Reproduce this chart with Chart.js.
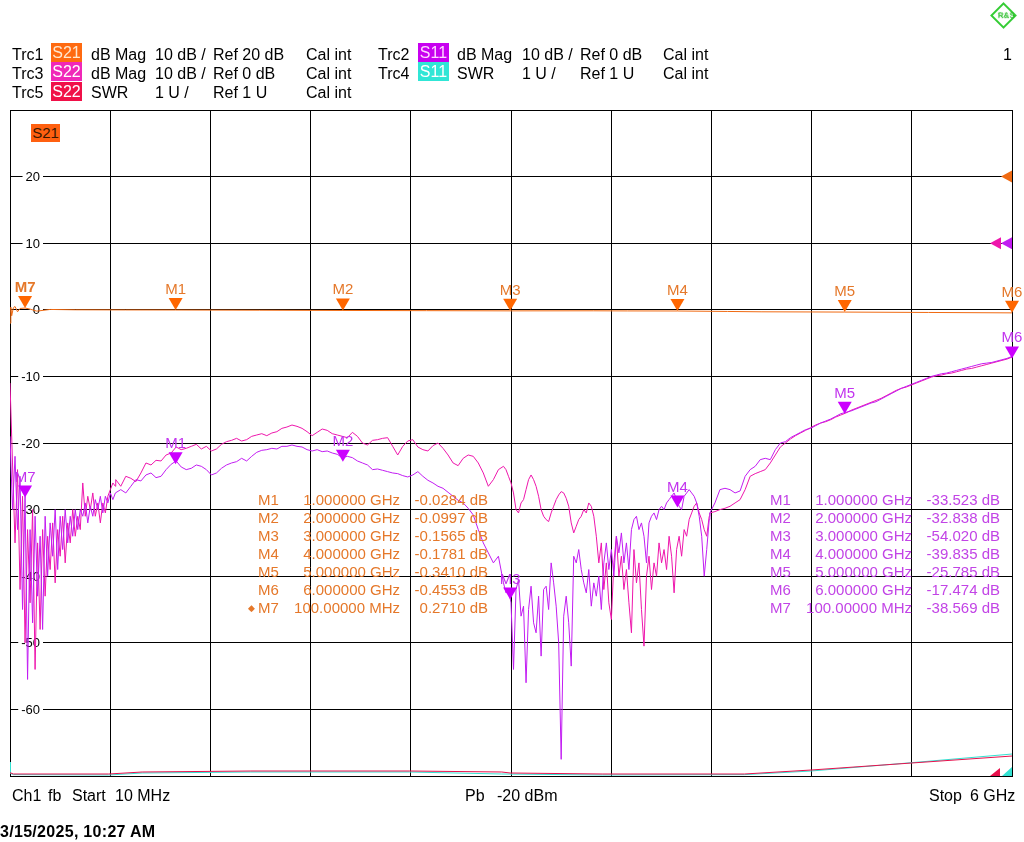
<!DOCTYPE html>
<html>
<head>
<meta charset="utf-8">
<script src="https://cdn.jsdelivr.net/npm/chart.js@4.4.1/dist/chart.umd.min.js"></script>
<style>
  body { margin: 0; background: #fff; overflow: hidden; font-family: "Liberation Sans", Arial, sans-serif; }
  #wrap { position: relative; width: 1024px; height: 842px; }
  canvas { position: absolute; left: 0; top: 0; }
  .t { position: absolute; font-size: 16px; line-height: 19px; white-space: nowrap; color: #000; }
  .badge { position: absolute; width: 31px; height: 19px; font-size: 16px; line-height: 19px; text-align: center; color: #fff; }
  .mk { position: absolute; font-size: 15px; line-height: 18px; white-space: nowrap; }
  .r { text-align: right; }
  #logo { position: absolute; left: 994px; top: 6px; width: 15px; height: 15px; border: 2px solid #3c3; transform: rotate(45deg); }
  #logo span { position: absolute; left: 1px; top: 1px; font-size: 8px; font-weight: bold; color: #2b2; transform: rotate(-45deg); }
</style>
</head>
<body>
<div id="wrap">
  <canvas id="vna" width="1024" height="842"></canvas>
  <div id="logo"><span>R&amp;S</span></div>
</div>
<script>
// sweep: Start 10 MHz, Stop 6 GHz
const startMHz = 10;
const stopMHz = 6000;
const sweepPoints = 200;
// finer read-outs of the noisy bands
const lowBandStart = 10, lowBandStep = 15, lowBandPoints = 43;    // 10 .. 640 MHz
const midBandStart = 2960, midBandStep = 15, midBandPoints = 83;  // 2960 .. 4190 MHz

// vertical grid lines (10 divisions)
const xGridMHz = [10, 609, 1208, 1807, 2406, 3005, 3604, 4203, 4802, 5401, 6000];
const yTickLabels = [20, 10, 0, -10, -20, -30, -40, -50, -60];

// Trc2 S11 dB Mag, one value per sweep point
const s11Db = [
  -19, -27, -24, -55, -33, -45, -30, -46, -31, -40,
  -30, -37, -31, -35, -30, -32, -30, -28, -31, -29,
  -28, -27.5, -27, -27.5, -26.5, -25.5, -25.7, -24.8, -24.5, -25.2,
  -25.0, -24.0, -23.2, -22.7, -23.6, -24.0, -23.8, -23.3, -23.5, -24.0,
  -24.8, -24.5, -23.8, -23.3, -23.0, -22.8, -22.3, -22.7, -22.0, -21.4,
  -21.1, -21.0, -20.8, -20.9, -20.5, -20.5, -20.3, -20.5, -20.6, -21.0,
  -21.2, -21.0, -21.3, -21.2, -21.5, -21.7, -22.2, -22.0, -22.2, -22.7,
  -23.0, -23.3, -24.0, -23.9, -24.1, -24.3, -24.5, -24.6, -24.9, -25.1,
  -24.8, -24.3, -25.0, -25.6, -26.0, -26.5, -26.8, -27.4, -28.0, -28.6,
  -29.0, -29.8, -30.8, -33.0, -35.0, -36.5, -38.0, -37.0, -41.0, -42.5,
  -54.0, -41.0, -49.0, -42.0, -56.0, -44.0, -52.0, -40.0, -38.5, -67.5,
  -45.5, -53.5, -37.0, -36.5, -40.0, -44.0, -42.0, -44.0, -36.0, -39.0,
  -34.5, -37.5, -33.5, -36.0, -31.5, -33.0, -35.0, -31.5, -32.0, -30.5,
  -29.0, -28.0, -27.3, -29.5, -28.0, -27.0, -28.5, -31.0, -40.0, -30.5,
  -29.0, -27.0, -26.8, -27.0, -27.5, -27.2, -25.0, -24.0, -23.5, -22.5,
  -22.3, -22.5, -21.0, -20.0, -19.8, -19.2, -18.8, -18.4, -18.0, -17.8,
  -17.4, -17.0, -16.7, -16.4, -16.0, -15.6, -15.4, -15.2, -14.9, -14.6,
  -14.3, -14.0, -13.8, -13.4, -13.0, -12.6, -12.2, -11.8, -11.5, -11.2,
  -10.9, -10.6, -10.3, -10.0, -9.8, -9.6, -9.5, -9.3, -9.1, -8.9,
  -8.7, -8.5, -8.3, -8.1, -8.0, -7.9, -7.7, -7.5, -7.3, -7.0
];
const s11LowDb = [
  -19, -30, -22, -33, -25, -45, -28, -55.5, -33, -47,
  -31, -43, -34, -48, -31, -40, -32, -37, -30, -39,
  -31, -36, -30, -35, -31, -34, -30, -33, -30, -31,
  -29, -32, -29.5, -31, -28.5, -30, -28, -30.5, -28, -29,
  -27.5, -28.5, -27.5
];
const s11MidDb = [
  -41, -42.5, -42, -44, -54, -42, -40.5, -46, -44.5, -56,
  -45, -41.5, -47, -48.5, -43, -52, -42, -41.5, -45, -38,
  -41, -44.5, -50, -67.5, -46, -43, -47, -53.5, -37, -38,
  -36, -39, -41, -42.5, -39, -44.5, -41, -43, -40, -45,
  -38, -35, -39, -36, -40, -34, -36.5, -33.5, -38, -35,
  -39, -33, -31.5, -31, -33, -32, -34, -38, -32, -31,
  -30.5, -31.5, -30, -29.5, -30, -29, -28.5, -28, -27.5, -28.5,
  -29.5, -30, -28, -27.5, -27, -27.5, -28, -29, -31, -34,
  -40, -36, -31.5
];

// Trc3 S22 dB Mag
const s22Db = [
  -11, -22, -33, -42, -50, -30, -54, -36, -44, -33,
  -42, -31, -36, -32, -33, -27, -31, -29, -32, -30,
  -27, -25.5, -26.5, -25.0, -25.3, -25.8, -24.5, -23.0, -23.3, -22.6,
  -22.7, -21.8, -21.5, -20.6, -21.0, -20.8, -20.5, -20.2, -20.9, -20.5,
  -21.2, -20.9, -20.2, -19.8, -19.6, -19.3, -19.7, -19.5, -19.0, -18.8,
  -18.6, -18.9, -18.5, -18.3, -17.8, -17.6, -17.3, -17.5, -17.8, -18.3,
  -18.9, -18.4, -17.9, -18.1, -18.6, -18.8, -19.0, -19.2, -18.4, -19.0,
  -20.0, -20.3, -19.6, -19.5, -19.3, -19.2, -20.5, -21.8, -20.5, -19.7,
  -19.5, -20.6, -21.0, -21.2, -20.4, -20.0, -20.8, -21.8, -23.0, -23.4,
  -22.3, -21.8, -22.0, -23.0, -24.5, -26.5, -25.5, -24.0, -23.5, -25.0,
  -27.8, -30.0, -28.5, -25.5, -25.0, -28.0, -30.8, -31.8, -29.5, -27.5,
  -27.5, -29.0, -33.0, -32.0, -30.5, -29.0, -31.0, -37.0, -43.0, -46.5,
  -35.0, -41.0, -37.0, -48.5, -36.0, -43.0, -50.5, -38.0, -41.0, -35.0,
  -38.5, -34.0, -42.5, -35.0, -33.0, -31.0, -29.5, -31.5, -34.0, -30.5,
  -30.3, -30.0, -29.8, -29.5, -29.0, -28.5, -27.0, -25.0, -24.6, -24.3,
  -24.0, -23.0, -21.8, -20.6, -20.0, -19.4, -18.9, -18.5, -18.1, -17.7,
  -17.3, -17.0, -16.8, -16.5, -16.1, -15.8, -15.5, -15.1, -14.8, -14.5,
  -14.2, -13.9, -13.6, -13.3, -12.9, -12.5, -12.1, -11.8, -11.6, -11.3,
  -11.0, -10.7, -10.4, -10.1, -9.9, -9.8, -9.6, -9.5, -9.3, -9.1,
  -8.9, -8.8, -8.6, -8.4, -8.2, -8.0, -7.8, -7.6, -7.4, -7.1
];
const s22LowDb = [
  -11, -23, -35, -24, -42, -28, -50, -33, -44, -30,
  -54, -35, -48, -33, -43, -34, -39, -32, -41, -33,
  -37, -31, -38, -32, -35, -30, -34, -31, -33, -26,
  -31, -28, -30, -27.5, -31, -29, -32, -29, -30.5, -28,
  -27, -26, -26.5
];
const s22MidDb = [
  -23.5, -24, -25, -26, -27.5, -30, -30.5, -29, -28.5, -27,
  -25.5, -24.8, -25.5, -26.5, -28, -30, -31, -31.5, -31.8, -30.5,
  -29.5, -28.5, -27.8, -27.3, -27.5, -28.3, -29.5, -32, -33.5, -32.5,
  -31.5, -31, -30, -30.5, -29, -29.5, -31, -34, -38, -35,
  -42, -38, -44, -46.5, -38, -34, -40, -37, -42, -39,
  -44, -48.5, -36, -41, -38, -45, -50.5, -40, -37, -42,
  -38, -40, -35, -38, -36, -39, -34, -37, -42.5, -36,
  -34, -37, -33, -34, -31.5, -30.5, -29.5, -29, -30.5, -31.5,
  -33, -34, -31
];

// Trc1 S21 dB Mag
const s21FreqMHz = [10, 15, 20, 30, 40, 55, 70, 100, 130, 170, 250, 400, 700, 1000, 1500, 2000, 2500, 3000, 3500, 3700, 4000, 4300, 4500, 5000, 5500, 6000];
const s21Db = [-2.0, 0.4, -0.9, 0.3, 0.5, -0.3, 0.2, 0.27, 0.1, -0.2, 0.05, 0.0, -0.02, -0.03, -0.06, -0.1, -0.13, -0.16, -0.15, -0.17, -0.18, -0.25, -0.3, -0.34, -0.4, -0.46];

// Trc5 S22 SWR and Trc4 S11 SWR
const swr22FreqMHz = [10, 30, 600, 800, 1450, 2400, 2950, 3000, 3550, 4400, 4800, 5400, 6000];
const swr22 = [1.05, 1.03, 1.03, 1.06, 1.075, 1.075, 1.06, 1.045, 1.03, 1.03, 1.09, 1.195, 1.30];
const swr11FreqMHz = [10, 13, 30, 600, 800, 1450, 2400, 2950, 3550, 4400, 4800, 5400, 6000];
const swr11 = [1.21, 1.04, 1.02, 1.015, 1.045, 1.06, 1.06, 1.03, 1.015, 1.02, 1.075, 1.2, 1.33];

// markers
const markerNames = ['M1', 'M2', 'M3', 'M4', 'M5', 'M6', 'M7'];
const markerFreqMHz = [1000, 2000, 3000, 4000, 5000, 6000, 100];
const markerFreqText = ['1.000000 GHz', '2.000000 GHz', '3.000000 GHz', '4.000000 GHz', '5.000000 GHz', '6.000000 GHz', '100.00000 MHz'];
const s21MarkerDb = [-0.0284, -0.0997, -0.1565, -0.1781, -0.3410, -0.4553, 0.2710];
const s21MarkerText = ['-0.0284 dB', '-0.0997 dB', '-0.1565 dB', '-0.1781 dB', '-0.3410 dB', '-0.4553 dB', '0.2710 dB'];
const s11MarkerDb = [-23.2, -22.8, -43.5, -29.7, -15.6, -7.3, -28.2];
const s11MarkerText = ['-33.523 dB', '-32.838 dB', '-54.020 dB', '-39.835 dB', '-25.785 dB', '-17.474 dB', '-38.569 dB'];

// reference position arrows
const refArrowDb = [20, 10, 10];

const ORANGE = '#f06a12';
const ORANGE_TXT = '#e5782a';
const PURPLE = '#c21cf2';
const MAGENTA = '#ee16ac';
const RED = '#e8104c';
const CYAN = '#34e2d2';

function grid(f0, step, n) {
  const out = [];
  for (let i = 0; i < n; i++) out.push(f0 + i * step);
  return out;
}
const sweepMHz = grid(startMHz, (stopMHz - startMHz) / (sweepPoints - 1), sweepPoints);
const lowBandMHz = grid(lowBandStart, lowBandStep, lowBandPoints);
const midBandMHz = grid(midBandStart, midBandStep, midBandPoints);
const lowEnd = lowBandMHz[lowBandMHz.length - 1];
const midEnd = midBandMHz[midBandMHz.length - 1];

function pts(xs, ys) { return xs.map((x, i) => ({ x: x, y: ys[i] })); }

// whole sweep with the finer bands swapped in
function trace(base, low, mid) {
  const out = pts(lowBandMHz, low);
  sweepMHz.forEach((f, i) => { if (f > lowEnd && f < midBandStart - 5) out.push({ x: f, y: base[i] }); });
  pts(midBandMHz, mid).forEach(p => out.push(p));
  sweepMHz.forEach((f, i) => { if (f > midEnd) out.push({ x: f, y: base[i] }); });
  return out;
}

// ---- header / footer text ----
const wrap = document.getElementById('wrap');
function addText(left, top, text, cls, style) {
  const d = document.createElement('div');
  d.className = cls || 't';
  d.textContent = text;
  d.style.left = left + 'px';
  d.style.top = top + 'px';
  if (style) Object.assign(d.style, style);
  wrap.appendChild(d);
  return d;
}
function addBadge(left, top, text, bg, fg) {
  addText(left, top, text, 'badge', { background: bg, color: fg || '#fff' });
}

const headRows = [45, 64, 83];
addText(12, headRows[0], 'Trc1'); addBadge(51, 43, 'S21', '#ff6a10', '#ffe8d0');
addText(91, headRows[0], 'dB Mag'); addText(155, headRows[0], '10 dB /'); addText(213, headRows[0], 'Ref 20 dB'); addText(306, headRows[0], 'Cal int');
addText(378, headRows[0], 'Trc2'); addBadge(418, 43, 'S11', '#c800f0', '#ffd8ff');
addText(457, headRows[0], 'dB Mag'); addText(522, headRows[0], '10 dB /'); addText(580, headRows[0], 'Ref 0 dB'); addText(663, headRows[0], 'Cal int');
addText(1003, headRows[0], '1');

addText(12, headRows[1], 'Trc3'); addBadge(51, 62, 'S22', '#f028b8');
addText(91, headRows[1], 'dB Mag'); addText(155, headRows[1], '10 dB /'); addText(213, headRows[1], 'Ref 0 dB'); addText(306, headRows[1], 'Cal int');
addText(378, headRows[1], 'Trc4'); addBadge(418, 62, 'S11', '#30e6d6');
addText(457, headRows[1], 'SWR'); addText(522, headRows[1], '1 U /'); addText(580, headRows[1], 'Ref 1 U'); addText(663, headRows[1], 'Cal int');

addText(12, headRows[2], 'Trc5'); addBadge(51, 82, 'S22', '#f01048');
addText(91, headRows[2], 'SWR'); addText(155, headRows[2], '1 U /'); addText(213, headRows[2], 'Ref 1 U'); addText(306, headRows[2], 'Cal int');

addText(31, 124, 'S21', 'badge', { background: '#ff6010', color: '#3a1800', width: '29px', height: '18px', lineHeight: '18px', fontSize: '15px' });

addText(12, 786, 'Ch1'); addText(48, 786, 'fb'); addText(72, 786, 'Start'); addText(115, 786, '10 MHz');
addText(465, 786, 'Pb'); addText(497, 786, '-20 dBm');
addText(929, 786, 'Stop'); addText(970, 786, '6 GHz');
addText(0, 822, '3/15/2025, 10:27 AM', 't', { fontWeight: 'bold', letterSpacing: '0.3px' });

// marker tables
markerNames.forEach((m, i) => {
  const top = 491 + i * 18;
  addText(258, top, m, 'mk', { color: ORANGE_TXT });
  addText(280, top, markerFreqText[i], 'mk r', { color: ORANGE_TXT, width: '120px' });
  addText(400, top, s21MarkerText[i], 'mk r', { color: ORANGE_TXT, width: '88px' });
  addText(770, top, m, 'mk', { color: '#c244e6' });
  addText(792, top, markerFreqText[i], 'mk r', { color: '#c244e6', width: '120px' });
  addText(912, top, s11MarkerText[i], 'mk r', { color: '#c244e6', width: '88px' });
});
addText(248, 491 + 6 * 18, '\u25C6', 'mk', { color: ORANGE_TXT, fontSize: '9px' });

// ---- chart overlay: y labels, markers, ref arrows ----
function tri(ctx, a, b, c, color) {
  ctx.fillStyle = color;
  ctx.beginPath(); ctx.moveTo(a[0], a[1]); ctx.lineTo(b[0], b[1]); ctx.lineTo(c[0], c[1]); ctx.closePath(); ctx.fill();
}
function drawMarker(ctx, px, py, name, color, txtColor, bold) {
  tri(ctx, [px, py], [px - 7, py - 12], [px + 7, py - 12], color);
  ctx.fillStyle = txtColor;
  ctx.font = (bold ? 'bold ' : '') + '15px "Liberation Sans", Arial';
  ctx.textAlign = 'center';
  ctx.textBaseline = 'alphabetic';
  ctx.fillText(name, px, py - 16);
}

const overlay = {
  id: 'overlay',
  beforeDatasetsDraw(chart) {
    const { ctx, chartArea, scales } = chart;
    ctx.save();
    ctx.font = '13px "Liberation Sans", Arial';
    ctx.textAlign = 'right';
    ctx.textBaseline = 'middle';
    const rx = chartArea.left + 30;
    yTickLabels.forEach(v => {
      const py = scales.y.getPixelForValue(v);
      const txt = String(v);
      const w = ctx.measureText(txt).width;
      ctx.fillStyle = '#fff';
      ctx.fillRect(rx - w - 3, py - 6, w + 6, 12);
      ctx.fillStyle = '#000';
      ctx.fillText(txt, rx, py + 1);
    });
    ctx.restore();
  },
  afterDatasetsDraw(chart) {
    const { ctx, chartArea, scales } = chart;
    const x = scales.x, y = scales.y, ys = scales.ySwr;
    ctx.save();
    markerNames.forEach((m, i) => {
      const px = x.getPixelForValue(markerFreqMHz[i]);
      drawMarker(ctx, px, y.getPixelForValue(s21MarkerDb[i]), m, '#ff6600', ORANGE_TXT, m === 'M7');
      drawMarker(ctx, px, y.getPixelForValue(s11MarkerDb[i]), m, '#cc00ff', '#c233ee', false);
    });
    const R = chartArea.right;
    const colors = [ORANGE, MAGENTA, PURPLE];
    refArrowDb.forEach((v, i) => {
      const py = y.getPixelForValue(v);
      const off = i === 1 ? 11 : 0;
      tri(ctx, [R - 11 - off, py], [R - off, py - 6], [R - off, py + 6], colors[i]);
    });
    const B = ys.getPixelForValue(1);
    tri(ctx, [R - 22, B], [R - 12, B], [R - 12, B - 8], RED);
    tri(ctx, [R - 10, B], [R, B], [R, B - 9], CYAN);
    ctx.restore();
  }
};

const gridOpts = { color: '#000', lineWidth: 1, drawTicks: false };

new Chart(document.getElementById('vna').getContext('2d'), {
  type: 'line',
  data: {
    datasets: [
      { label: 'S21', data: pts(s21FreqMHz, s21Db), borderColor: ORANGE, yAxisID: 'y' },
      { label: 'S11', data: trace(s11Db, s11LowDb, s11MidDb), borderColor: PURPLE, yAxisID: 'y' },
      { label: 'S22', data: trace(s22Db, s22LowDb, s22MidDb), borderColor: MAGENTA, yAxisID: 'y' },
      { label: 'S22 SWR', data: pts(swr22FreqMHz, swr22), borderColor: RED, yAxisID: 'ySwr' },
      { label: 'S11 SWR', data: pts(swr11FreqMHz, swr11), borderColor: CYAN, yAxisID: 'ySwr' }
    ]
  },
  options: {
    responsive: false,
    animation: false,
    layout: { padding: { left: 10, right: 12, top: 110, bottom: 66 } },
    plugins: { legend: { display: false }, tooltip: { enabled: false } },
    elements: { point: { radius: 0 }, line: { borderWidth: 1, tension: 0 } },
    scales: {
      x: {
        type: 'linear', min: startMHz, max: stopMHz,
        afterBuildTicks: s => { s.ticks = xGridMHz.map(v => ({ value: v })); },
        ticks: { display: false },
        grid: gridOpts,
        border: { color: '#000' }
      },
      y: {
        min: -70, max: 30,
        ticks: { display: false, stepSize: 10 },
        grid: gridOpts,
        border: { color: '#000' }
      },
      ySwr: { min: 1, max: 11, display: false }
    }
  },
  plugins: [overlay]
});
</script>
</body>
</html>
